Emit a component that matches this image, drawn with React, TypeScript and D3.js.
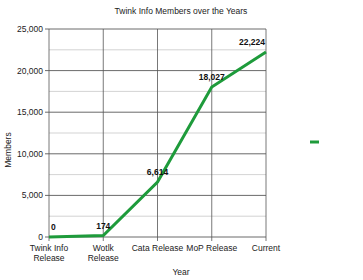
import React from "react";
import * as d3 from "d3";

const categories = ["Twink Info Release", "Wotlk Release", "Cata Release", "MoP Release", "Current"];
const categoryLines = [["Twink Info", "Release"], ["Wotlk", "Release"], ["Cata Release"], ["MoP Release"], ["Current"]];
const members = [0, 174, 6614, 18027, 22224];
const yTicks = [0, 5000, 10000, 15000, 20000, 25000];
const yMinor = [2500, 7500, 12500, 17500, 22500];

const W = 363, H = 280;
const left = 49, right = 266, top = 29, bottom = 237;

export default function App() {
  const x = d3.scalePoint<string>().domain(categories).range([left, right]);
  const y = d3.scaleLinear().domain([0, 25000]).range([bottom, top]);
  const line = d3.line<number>().x((_, i) => x(categories[i])!).y(d => y(d));
  const fmt = d3.format(",");
  const font = "Liberation Sans, Arial, sans-serif";
  return (
    <svg width={W} height={H} style={{ position: "absolute", left: 0, top: 0 }} fontFamily={font}>
      <rect width={W} height={H} fill="#fff" />
      <text x={181} y={14} fontSize={8.5} textAnchor="middle" fill="#222">Twink Info Members over the Years</text>
      {yMinor.map(t => (
        <line key={"m" + t} x1={left} x2={right} y1={y(t)} y2={y(t)} stroke="#c8c8c8" strokeWidth={0.8} />
      ))}
      {yTicks.map(t => (
        <g key={t}>
          <line x1={left - 4} x2={right} y1={y(t)} y2={y(t)} stroke="#444" strokeWidth={0.8} />
          <text x={left - 6} y={y(t) + 3} fontSize={8.5} textAnchor="end" fill="#222">{fmt(t)}</text>
        </g>
      ))}
      {categories.map((c, i) => (
        <g key={c}>
          <line x1={x(c)!} x2={x(c)!} y1={top} y2={bottom + 4} stroke="#555" strokeWidth={0.8} />
          {categoryLines[i].map((s, j) => (
            <text key={j} x={x(c)!} y={bottom + 14 + j * 10} fontSize={8.5} textAnchor="middle" fill="#222">{s}</text>
          ))}
        </g>
      ))}
      <text x={181} y={275} fontSize={8.5} textAnchor="middle" fill="#222">Year</text>
      <text transform={`translate(11,150) rotate(-90)`} fontSize={8.5} textAnchor="middle" fill="#222">Members</text>
      <path d={line(members)!} fill="none" stroke="#1e9b3b" strokeWidth={3} strokeLinejoin="miter" />
      {members.map((v, i) => {
        const px = x(categories[i])!;
        let anchor: "start" | "middle" | "end" = "middle";
        let tx = px;
        if (i === 0) { anchor = "start"; tx = px + 2; }
        if (i === members.length - 1) { anchor = "end"; tx = px - 1; }
        return (
          <text key={i} x={tx} y={y(v) - 7} fontSize={8.5} fontWeight="bold" textAnchor={anchor} fill="#111">{fmt(v)}</text>
        );
      })}
      <line x1={310} x2={319} y1={142} y2={142} stroke="#1e9b3b" strokeWidth={3} />
    </svg>
  );
}
